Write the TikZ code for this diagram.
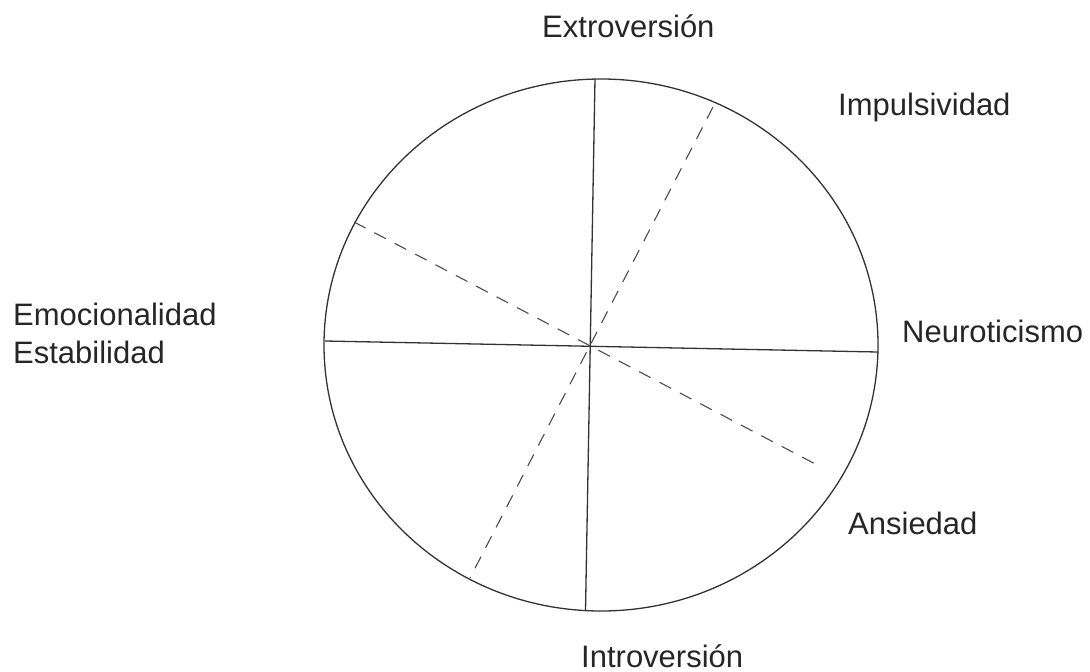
\documentclass[tikz,border=0pt]{standalone}
\usepackage{fontspec}
\setmainfont{Liberation Sans}
\usetikzlibrary{positioning}
\tikzset{
  %% Trait labels
  traitlabel/.style={
    inner sep=0pt, anchor=base west, text=black!85,
    font=\fontsize{31}{38}\selectfont},
  %% Main axes and circle
  mainline/.style={draw=black!80, line width=1.3pt},
  %% Secondary (dashed) axes
  subline/.style={draw=black!70, line width=1.1pt,
    dash pattern=on 13pt off 10pt},
}
\begin{document}
\begin{tikzpicture}[x=1pt, y=-1pt]
  \useasboundingbox (0,0) rectangle (1090,672);

  %% Circle
  \draw[mainline] (601,345) ellipse [x radius=277, y radius=266];

  %% Axis end points
  \coordinate (north) at (595,79);
  \coordinate (south) at (585.5,611);
  \coordinate (west)  at (325,341);
  \coordinate (east)  at (878,352);
  \coordinate (ne)    at (713,107);
  \coordinate (sw)    at (470,578);
  \coordinate (nw)    at (354,222);
  \coordinate (se)    at (821,467);

  %% Axes
  \draw[mainline] (north) -- (south);
  \draw[mainline] (west)  -- (east);
  \draw[subline]  (ne)    -- (sw);
  \draw[subline]  (nw)    -- (se);

  %% Labels
  \node[traitlabel] (extro) at (542,37)  {Extroversión};
  \node[traitlabel] (impul) at (838,115) {Impulsividad};
  \node[traitlabel] (neuro) at (902,342) {Neuroticismo};
  \node[traitlabel] (ansie) at (848,534) {Ansiedad};
  \node[traitlabel] (intro) at (581,667) {Introversión};
  \node[traitlabel, align=left] (emoc) at (13,363)
        {Emocionalidad\\ Estabilidad};

\end{tikzpicture}
\end{document}
